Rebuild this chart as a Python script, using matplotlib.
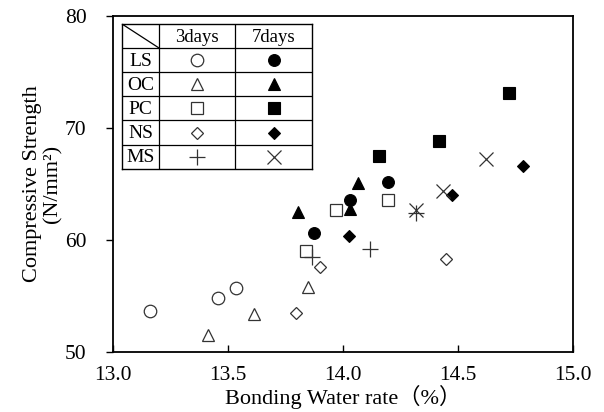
import matplotlib
matplotlib.use("Agg")
from matplotlib import pyplot as plt

plt.rcParams["font.family"] = ["Liberation Serif", "Noto Sans CJK JP", "DejaVu Sans"]

# bonding water rate (%) / compressive strength (N/mm2), 3 and 7 days
ls_3d_x = [13.16, 13.455, 13.533]
ls_3d_y = [53.7, 54.8, 55.7]
ls_7d_x = [13.875, 14.03, 14.194]
ls_7d_y = [60.6, 63.6, 65.2]

oc_3d_x = [13.414, 13.613, 13.849]
oc_3d_y = [51.5, 53.4, 55.8]
oc_7d_x = [13.803, 14.03, 14.064]
oc_7d_y = [62.5, 62.8, 65.1]

pc_3d_x = [13.839, 13.97, 14.194]
pc_3d_y = [59.0, 62.7, 63.6]
pc_7d_x = [14.158, 14.419, 14.723]
pc_7d_y = [67.5, 68.8, 73.1]

ns_3d_x = [13.796, 13.9, 14.446]
ns_3d_y = [53.5, 57.6, 58.3]
ns_7d_x = [14.027, 14.472, 14.784]
ns_7d_y = [60.4, 64.0, 66.6]

ms_3d_x = [13.864, 14.117, 14.316]
ms_3d_y = [58.5, 59.2, 62.4]
ms_7d_x = [14.316, 14.433, 14.62]
ms_7d_y = [62.7, 64.4, 67.2]

materials = ["LS", "OC", "PC", "NS", "MS"]
ages = ["3days", "7days"]
x_ticks = [13.0, 13.5, 14.0, 14.5, 15.0]
y_ticks = [50, 60, 70, 80]

# (x, y, marker, size, filled) per material and age
series = {
    ("LS", "3days"): (ls_3d_x, ls_3d_y, "o", 9, False),
    ("LS", "7days"): (ls_7d_x, ls_7d_y, "o", 8.5, True),
    ("OC", "3days"): (oc_3d_x, oc_3d_y, "^", 9, False),
    ("OC", "7days"): (oc_7d_x, oc_7d_y, "^", 8.5, True),
    ("PC", "3days"): (pc_3d_x, pc_3d_y, "s", 8.5, False),
    ("PC", "7days"): (pc_7d_x, pc_7d_y, "s", 8, True),
    ("NS", "3days"): (ns_3d_x, ns_3d_y, "D", 6.5, False),
    ("NS", "7days"): (ns_7d_x, ns_7d_y, "D", 6.5, True),
    ("MS", "3days"): (ms_3d_x, ms_3d_y, "+", 11, False),
    ("MS", "7days"): (ms_7d_x, ms_7d_y, "x", 9.5, False),
}


def draw(ax, x, y, marker, size, filled):
    if filled:
        ax.plot(x, y, linestyle="none", marker=marker, markersize=size,
                markerfacecolor="black", markeredgecolor="black",
                markeredgewidth=0.8, clip_on=False)
    else:
        ax.plot(x, y, linestyle="none", marker=marker, markersize=size,
                markerfacecolor="none", markeredgecolor="#333333",
                markeredgewidth=0.9, clip_on=False)


fig = plt.figure(figsize=(6.04, 4.12), dpi=100)
ax = fig.add_axes([113 / 604, 60 / 412, 460 / 604, 336 / 412])

for (mat, age), (x, y, marker, size, filled) in series.items():
    draw(ax, x, y, marker, size, filled)

ax.set_xlim(13.0, 15.0)
ax.set_ylim(50, 80)
ax.set_xticks(x_ticks)
ax.set_xticklabels([f"{t:.1f}" for t in x_ticks])
ax.set_yticks(y_ticks)
ax.tick_params(axis="x", direction="in", length=5, width=1, labelsize=15.5, pad=10)
ax.tick_params(axis="y", direction="out", length=5, width=1, labelsize=15.5, pad=14)
for spine in ax.spines.values():
    spine.set_linewidth(1.3)

ax.set_xlabel("Bonding Water rate（%）", fontsize=16, labelpad=0)
ax.set_ylabel("Compressive Strength\n(N/mm²)", fontsize=16, labelpad=2,
              linespacing=1.05)

# legend table
tab = fig.add_axes([122 / 604, 1 - 169 / 412, 190 / 604, 145 / 412])
tab.set_xlim(0, 190)
tab.set_ylim(145, 0)
tab.set_xticks([])
tab.set_yticks([])
tab.set_facecolor("white")
for spine in tab.spines.values():
    spine.set_linewidth(1.0)

col_edges = [37, 113]
row_edges = [24, 48.5, 72.5, 96.5, 121]
for cx in col_edges:
    tab.plot([cx, cx], [0, 145], color="black", linewidth=0.9)
for ry in row_edges:
    tab.plot([0, 190], [ry, ry], color="black", linewidth=0.9)
tab.plot([0, 37], [0, 24], color="black", linewidth=0.9)

col_centers = [75, 151.5]
row_centers = [12, 36, 60.5, 84.5, 109, 133]
for age, cx in zip(ages, col_centers):
    tab.text(cx, row_centers[0] + 1, age, ha="center", va="center", fontsize=13.5)
for i, mat in enumerate(materials):
    cy = row_centers[i + 1]
    tab.text(18.5, cy + 1, mat, ha="center", va="center", fontsize=14)
    for age, cx in zip(ages, col_centers):
        _, _, marker, size, filled = series[(mat, age)]
        draw(tab, [cx], [cy], marker, size, filled)

fig.savefig("out.png", dpi=100)
